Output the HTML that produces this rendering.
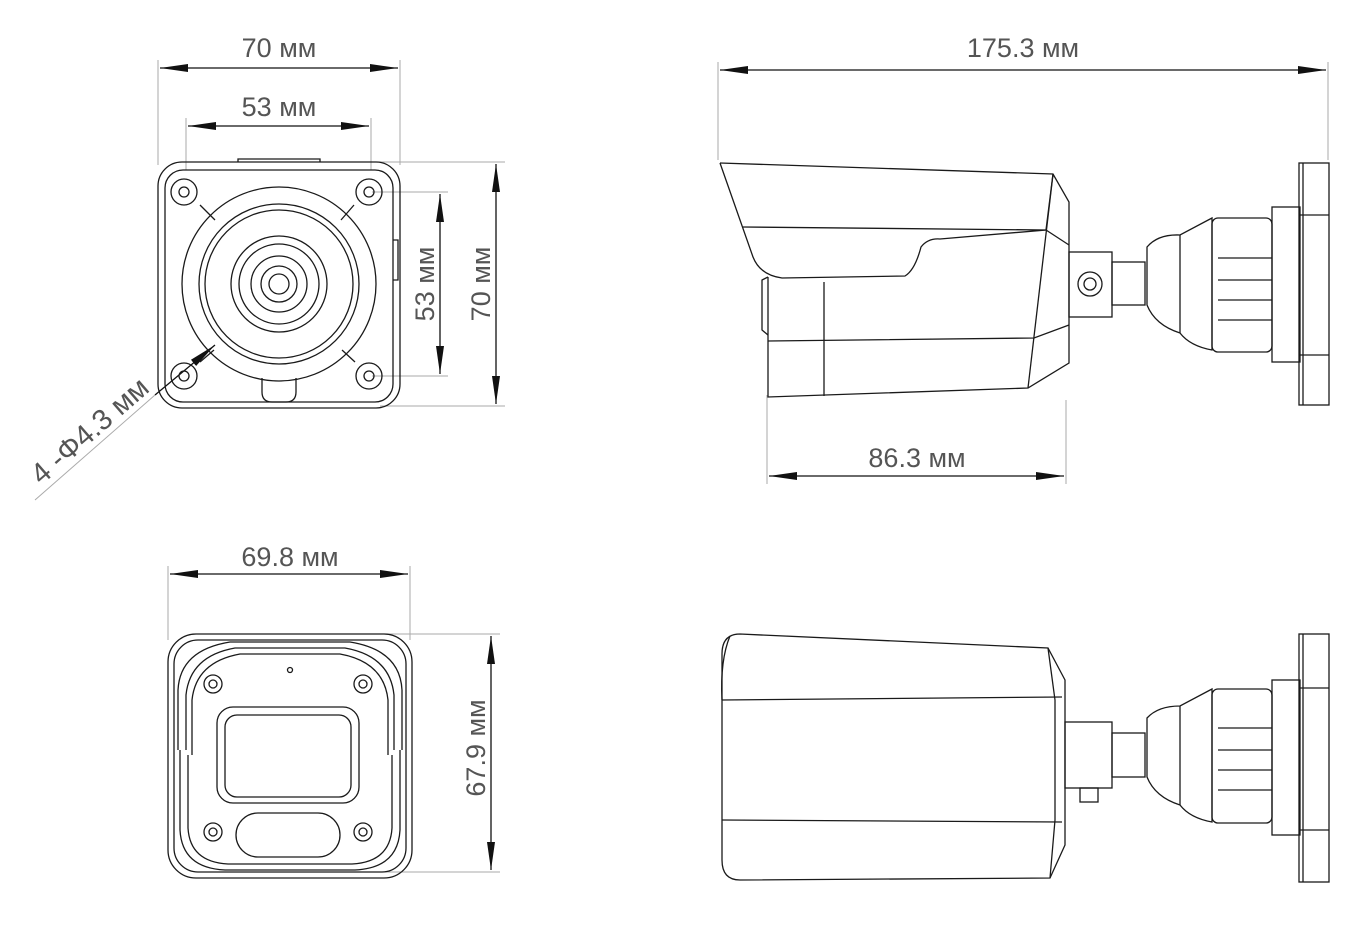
<!DOCTYPE html>
<html><head><meta charset="utf-8"><style>
html,body{margin:0;padding:0;background:#fff}
svg{display:block}
text{font-family:"Liberation Sans",sans-serif;font-size:27px;fill:#555}
</style></head><body>
<svg width="1349" height="942" viewBox="0 0 1349 942" xmlns="http://www.w3.org/2000/svg">
<defs>
<marker id="a" viewBox="0 0 28 8" refX="28" refY="4" markerWidth="28" markerHeight="8" markerUnits="userSpaceOnUse" orient="auto-start-reverse"><path d="M0,0 L28,4 L0,8 Z" fill="#111"/></marker>
</defs>
<g stroke="#aaa" stroke-width="1" fill="none">
<line x1="158" y1="60" x2="158" y2="165"/><line x1="400" y1="60" x2="400" y2="165"/>
<line x1="186" y1="118" x2="186" y2="170"/><line x1="371" y1="118" x2="371" y2="170"/>
<line x1="372" y1="162" x2="505" y2="162"/><line x1="380" y1="406" x2="505" y2="406"/>
<line x1="372" y1="192" x2="448" y2="192"/><line x1="372" y1="376" x2="448" y2="376"/>
<line x1="718" y1="62" x2="718" y2="160"/><line x1="1328" y1="62" x2="1328" y2="160"/>
<line x1="767" y1="395" x2="767" y2="484"/><line x1="1066" y1="400" x2="1066" y2="484"/>
<line x1="168" y1="566" x2="168" y2="640"/><line x1="410" y1="566" x2="410" y2="640"/>
<line x1="380" y1="634" x2="500" y2="634"/><line x1="380" y1="872" x2="500" y2="872"/>
<line x1="155" y1="395" x2="35" y2="500"/>
</g>
<g stroke="#111" stroke-width="1.3" fill="none">
<line x1="160" y1="68" x2="398" y2="68" marker-start="url(#a)" marker-end="url(#a)"/>
<line x1="188" y1="126" x2="369" y2="126" marker-start="url(#a)" marker-end="url(#a)"/>
<line x1="440" y1="194" x2="440" y2="374" marker-start="url(#a)" marker-end="url(#a)"/>
<line x1="496" y1="164" x2="496" y2="404" marker-start="url(#a)" marker-end="url(#a)"/>
<line x1="720" y1="70" x2="1326" y2="70" marker-start="url(#a)" marker-end="url(#a)"/>
<line x1="769" y1="476" x2="1064" y2="476" marker-start="url(#a)" marker-end="url(#a)"/>
<line x1="170" y1="574" x2="408" y2="574" marker-start="url(#a)" marker-end="url(#a)"/>
<line x1="491" y1="636" x2="491" y2="870" marker-start="url(#a)" marker-end="url(#a)"/>
<line x1="155" y1="395" x2="215" y2="345" marker-end="url(#a)"/>
</g>
<text x="279" y="57" text-anchor="middle">70 мм</text>
<text x="279" y="116" text-anchor="middle">53 мм</text>
<text transform="translate(434,284) rotate(-90)" text-anchor="middle">53 мм</text>
<text transform="translate(490,284) rotate(-90)" text-anchor="middle">70 мм</text>
<text transform="translate(96,438) rotate(-41)" text-anchor="middle" style="font-size:29px">4 -Φ4.3 мм</text>
<text x="1023" y="57" text-anchor="middle">175.3 мм</text>
<text x="917" y="467" text-anchor="middle">86.3 мм</text>
<text x="290" y="566" text-anchor="middle">69.8 мм</text>
<text transform="translate(485,748) rotate(-90)" text-anchor="middle">67.9 мм</text>

<g stroke="#1a1a1a" stroke-width="1.3" fill="none">
<rect x="158" y="162" width="242" height="246" rx="24"/>
<rect x="165" y="170" width="228" height="232" rx="18"/>
<path d="M238,162 L238,159 L320,159 L320,162"/>
<circle cx="184" cy="192" r="13"/><circle cx="184" cy="192" r="5"/>
<circle cx="369" cy="192" r="13"/><circle cx="369" cy="192" r="5"/>
<circle cx="184" cy="376" r="13"/><circle cx="184" cy="376" r="5"/>
<circle cx="369" cy="376" r="13"/><circle cx="369" cy="376" r="5"/>
<path d="M200,205 L215,220 M354,205 L341,220 M200,362 L214,350 M355,362 L342,350"/>
<path d="M262,378 L262,392 Q262,402 272,402 L286,402 Q296,402 296,392 L296,378"/>
<circle cx="279" cy="284" r="97"/>
<circle cx="279" cy="284" r="80"/>
<circle cx="279" cy="284" r="74"/>
<circle cx="279" cy="284" r="48"/>
<circle cx="279" cy="284" r="40"/>
<circle cx="279" cy="284" r="28"/>
<circle cx="279" cy="284" r="18"/>
<circle cx="279" cy="284" r="10"/>
<path d="M393,240 L398,240 L398,280 L393,280"/>

<path d="M720,163 L1053,174 L1069,202 L1069,363 L1028,388 L768,397 L768,277"/>
<path d="M720,163 L753,257 Q760,275 782,278 L905,276 Q915,270 921,247 Q928,238 940,239 L1046,230 L1053,174"/>
<path d="M743,227 L1046,230 L1069,245"/>
<path d="M1053,174 L1028,388"/>
<line x1="824" y1="282" x2="824" y2="396"/>
<path d="M768,341 L1034,338 L1069,325"/>
<path d="M768,277 L762,280 L762,330 L768,335"/>
<rect x="1069" y="252" width="43" height="65"/>
<circle cx="1090" cy="284" r="12"/><circle cx="1090" cy="284" r="6"/>
<rect x="1112" y="262" width="33" height="43"/>
<path d="M1147,247 Q1158,234 1180,235 L1212,218 L1212,350 Q1190,346 1180,333 Q1155,325 1147,305 Z"/>
<line x1="1180" y1="235" x2="1180" y2="333"/>
<rect x="1212" y="218" width="60" height="134" rx="6"/>
<path d="M1218,258 L1272,258 M1218,280 L1272,280 M1218,300 L1272,300 M1218,320 L1272,320"/>
<rect x="1272" y="207" width="28" height="155"/>
<rect x="1299" y="163" width="30" height="242"/>
<path d="M1303,163 L1303,405 M1299,215 L1329,215 M1299,355 L1329,355"/>

<rect x="168" y="634" width="244" height="244" rx="28"/>
<rect x="174" y="640" width="232" height="232" rx="24"/>
<path d="M178,750 L178,690 Q180,650 230,642 L350,642 Q400,650 402,690 L402,750"/>
<path d="M186,750 L186,695 Q190,656 235,648 L345,648 Q390,656 394,695 L394,750"/>
<path d="M192,755 L192,700 Q196,662 240,654 L340,654 Q384,662 388,700 L388,755"/>
<path d="M180,750 L180,830 Q182,868 225,870 L355,870 Q398,868 400,830 L400,750"/>
<path d="M188,755 L188,828 Q190,862 228,864 L352,864 Q390,862 392,828 L392,755"/>
<circle cx="290" cy="670" r="2.5"/>
<circle cx="213" cy="684" r="9"/><circle cx="213" cy="684" r="4"/>
<circle cx="363" cy="684" r="9"/><circle cx="363" cy="684" r="4"/>
<circle cx="213" cy="832" r="9"/><circle cx="213" cy="832" r="4"/>
<circle cx="363" cy="832" r="9"/><circle cx="363" cy="832" r="4"/>
<rect x="217" y="707" width="142" height="96" rx="16"/>
<rect x="225" y="715" width="126" height="82" rx="12"/>
<rect x="236" y="813" width="104" height="44" rx="22"/>

<path d="M740,634 L1048,648 L1065,680 L1065,845 L1050,878 L740,880 Q722,880 722,860 L722,654 Q722,634 740,634 Z"/>
<path d="M730,636 Q720,660 722,700"/>
<line x1="722" y1="700" x2="1062" y2="697"/>
<line x1="722" y1="820" x2="1062" y2="822"/>
<path d="M1048,648 L1055,700 L1055,820 L1050,878"/>
<rect x="1065" y="722" width="47" height="66"/>
<rect x="1112" y="733" width="33" height="44"/>
<rect x="1080" y="788" width="18" height="14"/>
<path d="M1147,718 Q1158,706 1180,706 L1212,689 L1212,822 Q1190,818 1180,805 Q1155,797 1147,777 Z"/>
<line x1="1180" y1="706" x2="1180" y2="805"/>
<rect x="1212" y="689" width="60" height="134" rx="6"/>
<path d="M1218,728 L1272,728 M1218,750 L1272,750 M1218,770 L1272,770 M1218,790 L1272,790"/>
<rect x="1272" y="680" width="28" height="155"/>
<rect x="1299" y="634" width="30" height="248"/>
<path d="M1303,634 L1303,882 M1299,688 L1329,688 M1299,830 L1329,830"/>
</g>
</svg>
</body></html>
